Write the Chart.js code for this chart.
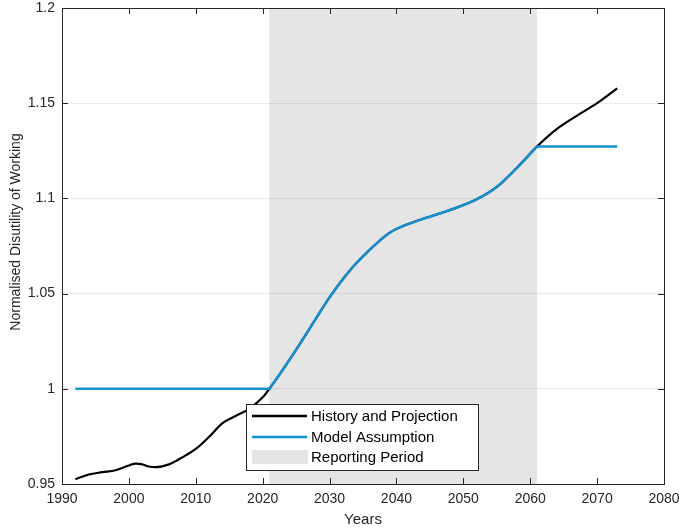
<!DOCTYPE html>
<html>
<head>
<meta charset="utf-8">
<script src="https://cdn.jsdelivr.net/npm/chart.js@4/dist/chart.umd.min.js"></script>
<style>
  html, body { margin: 0; padding: 0; background: #fff; }
  #wrap { width: 679px; height: 529px; }
</style>
</head>
<body>
<div id="wrap"><canvas id="c" width="679" height="529"></canvas></div>
<script>
// values
const histYears = [1992, 1994, 1996, 1998, 2000, 2001, 2002, 2003, 2004, 2006, 2008, 2010, 2012, 2014, 2016, 2018, 2020, 2021,
  2023, 2025, 2027, 2030, 2033, 2036, 2039, 2041, 2044, 2048, 2052, 2055, 2058, 2061, 2064, 2067, 2070, 2073]
const histValues = [0.9525, 0.9550, 0.9562, 0.9572, 0.9597, 0.9607, 0.9603, 0.9592, 0.9589, 0.9603, 0.9640, 0.9684, 0.9748, 0.9820, 0.9858, 0.9895, 0.9955, 1.0000,
  1.0100, 1.0205, 1.0315, 1.0480, 1.0620, 1.0730, 1.0820, 1.0855, 1.0893, 1.0939, 1.0995, 1.1060, 1.1160, 1.1272, 1.1365, 1.1435, 1.1500, 1.1578]

// model assumption: flat before, follows projection inside, flat after
const modelBeforeYears = [1992, 2021]
const modelBeforeValues = [1.0000, 1.0000]
const modelYears = [2021, 2023, 2025, 2027, 2030, 2033, 2036, 2039, 2041, 2044, 2048, 2052, 2055, 2058, 2061]
const modelValues = [1.0000, 1.0100, 1.0205, 1.0315, 1.0480, 1.0620, 1.0730, 1.0820, 1.0855, 1.0893, 1.0939, 1.0995, 1.1060, 1.1160, 1.1272]
const modelAfterYears = [2061, 2073]
const modelAfterValues = [1.1272, 1.1272]

const reportStart = 2021
const reportEnd = 2061

const xTicks = [1990, 2000, 2010, 2020, 2030, 2040, 2050, 2060, 2070, 2080]
const yTicks = [0.95, 1, 1.05, 1.1, 1.15, 1.2]

const legendLabels = ['History and Projection', 'Model Assumption', 'Reporting Period']
const yTitle = 'Normalised Disutility of Working'

const black = '#000000'
const blue = '#1590d2'
const shade = '#e5e5e5'
const axisColor = '#262626'
const font = '"Liberation Sans", Arial, sans-serif'

const toPoints = (xs, ys) => xs.map((x, i) => ({x, y: ys[i]}))

// grey band behind everything in the plot
const shadePlugin = {
  id: 'shade',
  beforeDraw(chart) {
    const {ctx, chartArea: a, scales: {x}} = chart
    ctx.save()
    ctx.fillStyle = shade
    const x0 = x.getPixelForValue(reportStart)
    const x1 = x.getPixelForValue(reportEnd)
    ctx.fillRect(x0, a.top, x1 - x0, a.bottom - a.top)
    ctx.restore()
  }
}

// box, inward ticks, y title and legend, drawn after the lines
const framePlugin = {
  id: 'frame',
  afterDraw(chart) {
    const {ctx, chartArea: a, scales: {x, y}} = chart
    ctx.save()
    ctx.strokeStyle = axisColor
    ctx.lineWidth = 1
    ctx.strokeRect(Math.round(a.left) + 0.5, Math.round(a.top) + 0.5, Math.round(a.right - a.left), Math.round(a.bottom - a.top))
    const len = 6
    ctx.beginPath()
    xTicks.forEach(t => {
      const px = Math.round(x.getPixelForValue(t)) + 0.5
      ctx.moveTo(px, a.bottom); ctx.lineTo(px, a.bottom - len)
      ctx.moveTo(px, a.top); ctx.lineTo(px, a.top + len)
    })
    yTicks.forEach(t => {
      const py = Math.round(y.getPixelForValue(t)) + 0.5
      ctx.moveTo(a.left, py); ctx.lineTo(a.left + len, py)
      ctx.moveTo(a.right, py); ctx.lineTo(a.right - len, py)
    })
    ctx.stroke()

    // y title (sits a bit above the plot centre, as in the source)
    ctx.save()
    ctx.translate(16, 232)
    ctx.rotate(-Math.PI / 2)
    ctx.fillStyle = axisColor
    ctx.font = '14px ' + font
    ctx.textAlign = 'center'
    ctx.textBaseline = 'middle'
    ctx.fillText(yTitle, 0, 0)
    ctx.restore()

    // legend
    const lx = 246, ly = 404, lw = 232, lh = 66
    ctx.fillStyle = '#fff'
    ctx.fillRect(lx, ly, lw, lh)
    ctx.strokeStyle = '#262626'
    ctx.strokeRect(lx + 0.5, ly + 0.5, lw, lh)
    const rows = [416, 437, 457]
    ctx.lineWidth = 2.5
    ctx.strokeStyle = black
    ctx.beginPath(); ctx.moveTo(252, rows[0]); ctx.lineTo(307, rows[0]); ctx.stroke()
    ctx.strokeStyle = blue
    ctx.beginPath(); ctx.moveTo(252, rows[1]); ctx.lineTo(307, rows[1]); ctx.stroke()
    ctx.fillStyle = shade
    ctx.fillRect(252, 450, 56, 14)
    ctx.fillStyle = '#000'
    ctx.font = '15px ' + font
    ctx.textBaseline = 'middle'
    legendLabels.forEach((l, i) => ctx.fillText(l, 311, rows[i] + 1))
    ctx.restore()
  }
}

const blueLine = (label, xs, ys) => ({
  label,
  data: toPoints(xs, ys),
  borderColor: blue,
  borderWidth: 2.5,
  pointRadius: 0,
  cubicInterpolationMode: 'monotone',
  order: 1
})

new Chart(document.getElementById('c'), {
  type: 'line',
  data: {
    datasets: [
      {
        label: legendLabels[0],
        data: toPoints(histYears, histValues),
        borderColor: black,
        borderWidth: 2.2,
        pointRadius: 0,
        cubicInterpolationMode: 'monotone',
        order: 2
      },
      blueLine(legendLabels[1], modelBeforeYears, modelBeforeValues),
      blueLine(legendLabels[1], modelYears, modelValues),
      blueLine(legendLabels[1], modelAfterYears, modelAfterValues)
    ]
  },
  options: {
    responsive: false,
    animation: false,
    layout: { padding: { top: 8, right: 15, left: 0, bottom: 0 } },
    plugins: {
      legend: { display: false },
      tooltip: { enabled: false }
    },
    scales: {
      x: {
        type: 'linear',
        min: 1990,
        max: 2080,
        afterBuildTicks: s => { s.ticks = xTicks.map(v => ({value: v})) },
        afterFit: s => { s.height = 45; s.paddingLeft = 0; s.paddingRight = 0 },
        grid: { display: false, drawTicks: false },
        border: { display: false },
        ticks: {
          color: '#262626',
          font: { family: font, size: 14 },
          padding: 7,
          maxRotation: 0,
          callback: v => String(v)
        },
        title: {
          display: true,
          text: 'Years',
          color: '#262626',
          font: { family: font, size: 15 },
          padding: { top: 0, bottom: 0 }
        }
      },
      y: {
        min: 0.95,
        max: 1.2,
        afterBuildTicks: s => { s.ticks = yTicks.map(v => ({value: v})) },
        afterFit: s => { s.width = 62; s.paddingTop = 0; s.paddingBottom = 0 },
        grid: {
          drawTicks: false,
          color: ctx => (ctx.tick && (ctx.tick.value === 0.95 || ctx.tick.value === 1.2)) ? 'rgba(0,0,0,0)' : 'rgba(0,0,0,0.08)'
        },
        border: { display: false },
        ticks: {
          color: '#262626',
          font: { family: font, size: 14 },
          padding: 7,
          callback: v => String(Math.round(v * 100) / 100)
        },
        title: { display: false }
      }
    }
  },
  plugins: [shadePlugin, framePlugin]
})
</script>
</body>
</html>
